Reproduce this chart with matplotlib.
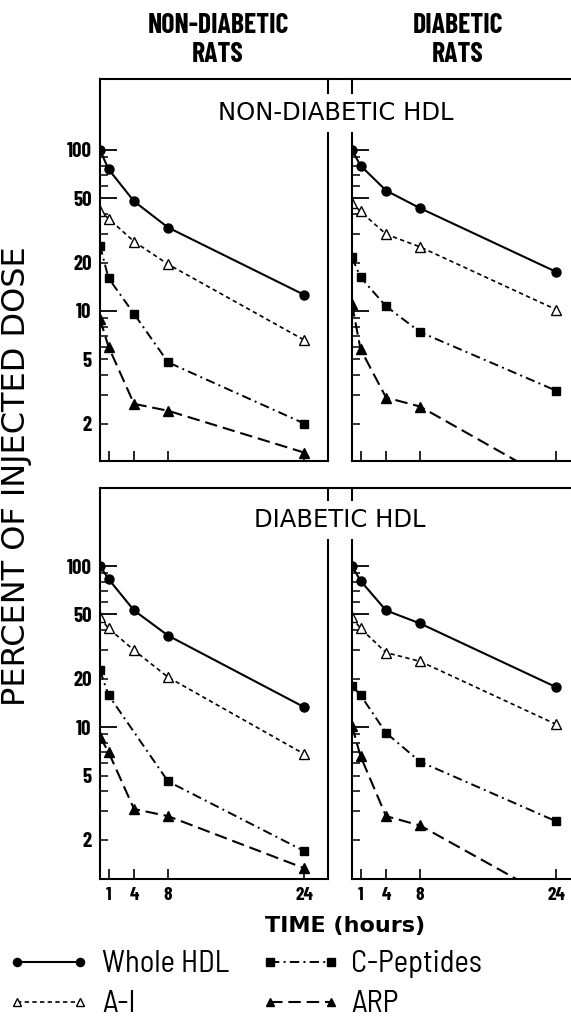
import numpy as np
import matplotlib
matplotlib.use("Agg")
import matplotlib.pyplot as plt
from matplotlib.lines import Line2D
from matplotlib.ticker import FixedLocator, FuncFormatter

NARROW = ['Barlow Condensed', 'DejaVu Sans']
SEMI = ['Barlow Semi Condensed', 'Barlow Condensed', 'DejaVu Sans']
WIDE = ['DejaVu Sans']
plt.rcParams['font.family'] = NARROW
plt.rcParams['font.weight'] = 'bold'

# time points (hours)
times = np.array([0, 1, 4, 8, 24])
series_names = ["Whole HDL", "A-I", "C-Peptides", "ARP"]

# non-diabetic HDL injected into non-diabetic rats
ndhdl_ndrat_whole = [100, 76, 48, 33, 12.6]
ndhdl_ndrat_ai = [42, 37.5, 27, 19.5, 6.6]
ndhdl_ndrat_cpep = [25.5, 16, 9.6, 4.8, 2.0]
ndhdl_ndrat_arp = [8.9, 6.0, 2.65, 2.4, 1.32]

# non-diabetic HDL injected into diabetic rats
ndhdl_drat_whole = [100, 80, 56, 43.5, 17.5]
ndhdl_drat_ai = [47, 41.5, 30, 25, 10.2]
ndhdl_drat_cpep = [21.5, 16.2, 10.7, 7.4, 3.2]
ndhdl_drat_arp = [11, 5.8, 2.9, 2.55, 0.85]

# diabetic HDL injected into non-diabetic rats (no 4 h C-peptide point)
dhdl_ndrat_whole = [100, 83, 53, 37, 13.3]
dhdl_ndrat_ai = [48, 41, 30, 20.4, 6.8]
dhdl_ndrat_cpep = [22.5, 15.8, np.nan, 4.6, 1.7]
dhdl_ndrat_arp = [8.7, 7.0, 3.1, 2.8, 1.33]

# diabetic HDL injected into diabetic rats
dhdl_drat_whole = [100, 81, 53, 44, 17.7]
dhdl_drat_ai = [48, 41, 29, 25.6, 10.4]
dhdl_drat_cpep = [18, 15.8, 9.2, 6.1, 2.6]
dhdl_drat_arp = [10.2, 6.6, 2.8, 2.45, 0.83]

xticks = [1, 4, 8, 24]
block_titles = ["NON-DIABETIC HDL", "DIABETIC HDL"]
col_titles = ["NON-DIABETIC\nRATS", "DIABETIC\nRATS"]

styles = [
    dict(color='k', lw=1.5, ls='-', marker='o', ms=6.5, mfc='k', mec='k'),
    dict(color='k', lw=1.2, ls=(0, (2.6, 2.0)), marker='^', ms=6.5, mfc='white', mec='k', mew=1.0),
    dict(color='k', lw=1.4, ls=(0, (4.8, 2.2, 1.0, 2.2)), marker='s', ms=6.2, mfc='k', mec='k'),
    dict(color='k', lw=1.5, ls=(0, (6.0, 2.8)), marker='^', ms=6.7, mfc='k', mec='k'),
]

panels = [
    [[ndhdl_ndrat_whole, ndhdl_ndrat_ai, ndhdl_ndrat_cpep, ndhdl_ndrat_arp],
     [ndhdl_drat_whole, ndhdl_drat_ai, ndhdl_drat_cpep, ndhdl_drat_arp]],
    [[dhdl_ndrat_whole, dhdl_ndrat_ai, dhdl_ndrat_cpep, dhdl_ndrat_arp],
     [dhdl_drat_whole, dhdl_drat_ai, dhdl_drat_cpep, dhdl_drat_arp]],
]

W, H = 571, 1016
fig = plt.figure(figsize=(W / 100, H / 100), dpi=100)


def box(x0, y0, x1, y1):
    return [x0 / W, 1 - y1 / H, (x1 - x0) / W, (y1 - y0) / H]


block_y = [(79, 461), (488, 879)]
block_ylim = [(1.17, 276), (1.14, 305)]
col_x = [(100, 328), (352, 580)]
title_x = [336, 340]
title_y = [113, 520]
keep = {2, 5, 20}

for b in range(2):
    y0, y1 = block_y[b]
    frame = fig.add_axes(box(100, y0, 600, y1))
    frame.patch.set_visible(False)
    frame.set_xticks([])
    frame.set_yticks([])
    for s in ['left', 'right', 'bottom']:
        frame.spines[s].set_visible(False)
    frame.spines['top'].set_linewidth(1.5)

    for c in range(2):
        x0, x1 = col_x[c]
        ax = fig.add_axes(box(x0, y0, x1, y1))
        ax.patch.set_visible(False)
        for vals, st in zip(panels[b][c], styles):
            v = np.array(vals, dtype=float)
            m = ~np.isnan(v)
            ax.plot(times[m], v[m], dash_capstyle='butt', **st)
        ax.set_yscale('log')
        ax.set_xlim(0, 26.8)
        ax.set_ylim(*block_ylim[b])
        ax.yaxis.set_major_locator(FixedLocator([10, 50, 100]))
        ax.yaxis.set_minor_locator(FixedLocator([2, 3, 4, 5, 6, 7, 8, 9, 20, 30, 40, 60, 70, 80, 90]))
        ax.yaxis.set_major_formatter(FuncFormatter(lambda v, p: f"{v:g}"))
        ax.yaxis.set_minor_formatter(FuncFormatter(
            lambda v, p: f"{v:g}" if round(v) in keep else ""))
        ax.set_xticks(xticks)
        ax.set_xticklabels([str(t) for t in xticks])
        ax.tick_params(axis='y', which='major', direction='in', length=12, width=1.3,
                       labelsize=15, pad=6, labelleft=(c == 0))
        ax.tick_params(axis='y', which='minor', direction='in', length=6, width=1.1,
                       labelsize=15, pad=6, labelleft=(c == 0))
        ax.tick_params(axis='x', which='major', direction='in', length=7, width=1.2,
                       labelsize=14, pad=6, labelbottom=(b == 1))
        ax.spines['top'].set_visible(False)
        ax.spines['right'].set_visible(c == 0)
        for s in ax.spines.values():
            s.set_linewidth(1.5)

    fig.text(title_x[b] / W, 1 - title_y[b] / H, block_titles[b], ha='center', va='center',
             fontsize=17.5, family=WIDE, weight='normal',
             bbox=dict(facecolor='white', edgecolor='none', pad=5))

# underline the block titles
renderer = fig.canvas.get_renderer()
for t in list(fig.texts):
    bb = t.get_window_extent(renderer=renderer)
    fig.add_artist(Line2D([bb.x0 / W, bb.x1 / W], [(bb.y0 + 1) / H] * 2,
                          transform=fig.transFigure, color='k', lw=1.6))

# column headers
for x, txt in zip([218, 458], col_titles):
    fig.text(x / W, 1 - 40 / H, txt, ha='center', va='center', fontsize=20,
             linespacing=1.2, multialignment='center')

fig.text(17 / W, 1 - 476 / H, "PERCENT OF INJECTED DOSE", rotation=90, ha='center',
         va='center', fontsize=23, family=WIDE, weight='normal')
fig.text(345 / W, 1 - 926 / H, "TIME (hours)", ha='center', va='center', fontsize=16,
         family=WIDE, weight='bold')

# legend drawn by hand
leg_col = [(17, 80, 102), (270, 331, 351)]
leg_row = [962, 1002]
leg_pos = [(0, 0), (0, 1), (1, 0), (1, 1)]
for name, st, (c, r) in zip(series_names, styles, leg_pos):
    hx0, hx1, tx = leg_col[c]
    y = leg_row[r]
    fig.add_artist(Line2D([hx0 / W, hx1 / W], [1 - y / H] * 2, transform=fig.transFigure,
                          **{**st, 'ms': st['ms'] * 0.9}))
    fig.text(tx / W, 1 - (y + 10) / H, name, va='baseline', ha='left', fontsize=22,
             weight='normal', family=SEMI)

fig.savefig("out.png", dpi=100)
